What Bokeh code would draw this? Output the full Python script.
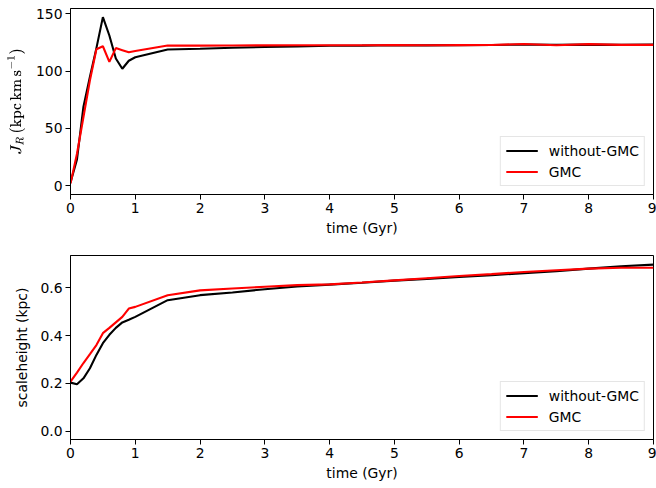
from bokeh.plotting import figure
from bokeh.layouts import column
from bokeh.models import Range1d, FixedTicker, PrintfTickFormatter
from bokeh.embed import file_html
from bokeh.resources import INLINE

# time grid (Gyr)
time = [0.0, 0.1, 0.2, 0.3, 0.4, 0.5, 0.6, 0.7, 0.8, 0.9, 1.0, 1.5, 2.0, 2.5,
        3.0, 3.5, 4.0, 4.5, 5.0, 5.5, 6.0, 6.5, 7.0, 7.5, 8.0, 8.5, 9.0]

# radial action J_R (kpc km/s)
jr_no_gmc = [3, 23, 69, 95, 120, 147, 131, 111, 102, 109, 112, 118.8, 119.5, 120.3,
             121.0, 121.5, 122.0, 122.2, 122.5, 122.4, 122.6, 122.7, 123.2, 122.8, 123.0, 122.8, 123.0]
jr_gmc = [2, 28, 60, 92, 119, 121.6, 108, 120, 118.2, 116.4, 117.5, 122.2, 122.2, 122.3,
          122.4, 122.5, 122.5, 122.5, 122.6, 122.5, 122.6, 122.7, 123.6, 122.5, 123.5, 122.8, 122.8]

# vertical scale height (kpc)
zh_no_gmc = [0.203, 0.196, 0.221, 0.263, 0.319, 0.368, 0.403, 0.432, 0.455, 0.466, 0.478, 0.548,
             0.569, 0.580, 0.594, 0.605, 0.613, 0.621, 0.630, 0.637, 0.645, 0.653, 0.661, 0.669,
             0.680, 0.690, 0.697]
zh_gmc = [0.207, 0.245, 0.285, 0.322, 0.360, 0.410, 0.432, 0.455, 0.478, 0.513, 0.520, 0.569,
          0.589, 0.597, 0.604, 0.611, 0.614, 0.622, 0.631, 0.640, 0.649, 0.657, 0.666, 0.673,
          0.680, 0.684, 0.684]

x_ticks = list(range(0, 10))
jr_ticks = [0, 50, 100, 150]
zh_ticks = [0.0, 0.2, 0.4, 0.6]

FONT = "DejaVu Sans"
FSIZE = "13.9px"
LW = 2.1


def make_panel(y_range, y_ticks, y_label, border_top, border_bottom, fmt=None):
    p = figure(width=656, height=244, output_backend="svg", toolbar_location=None,
               x_range=Range1d(0, 9), y_range=y_range,
               min_border_left=70, min_border_right=3,
               min_border_top=border_top, min_border_bottom=border_bottom)
    p.grid.visible = False
    p.outline_line_color = "black"
    p.outline_line_width = 1
    p.outline_line_alpha = 1.0
    p.background_fill_color = "white"
    p.border_fill_color = "white"
    p.xaxis.ticker = FixedTicker(ticks=x_ticks)
    p.yaxis.ticker = FixedTicker(ticks=y_ticks)
    if fmt:
        p.yaxis.formatter = PrintfTickFormatter(format=fmt)
    p.xaxis.axis_label = "time (Gyr)"
    p.yaxis.axis_label = y_label
    for ax in (p.xaxis, p.yaxis):
        ax.axis_line_color = "black"
        ax.major_tick_line_color = "black"
        ax.major_tick_out = 5
        ax.major_tick_in = 0
        ax.minor_tick_line_color = None
        ax.major_label_text_font = FONT
        ax.major_label_text_font_size = FSIZE
        ax.major_label_text_color = "black"
        ax.axis_label_text_font = FONT
        ax.axis_label_text_font_size = FSIZE
        ax.axis_label_text_font_style = "normal"
        ax.axis_label_text_color = "black"
    p.xaxis.major_label_standoff = 3
    p.xaxis.axis_label_standoff = 4
    p.yaxis.major_label_standoff = 3
    p.yaxis.axis_label_standoff = 7
    return p


def style_legend(p):
    lg = p.legend[0]
    lg.location = "bottom_right"
    lg.margin = 8
    lg.padding = 5
    lg.spacing = 4
    lg.label_height = 17
    lg.glyph_height = 17
    lg.glyph_width = 32
    lg.label_standoff = 11
    lg.label_text_font = FONT
    lg.label_text_font_size = FSIZE
    lg.label_text_color = "black"
    lg.border_line_color = "#cccccc"
    lg.border_line_width = 1
    lg.background_fill_alpha = 0.8


p1 = make_panel(Range1d(-7.5, 154.5), jr_ticks,
                r"$$J_R\,(\mathrm{kpc\,km\,s^{-1}})$$", 8, 50)
# the TeX label renders a little larger than plain text at the same size
p1.yaxis.axis_label_text_font_size = "12.5px"
p1.yaxis.axis_label_standoff = 8
p1.line(time, jr_no_gmc, line_color="black", line_width=LW, legend_label="without-GMC")
p1.line(time, jr_gmc, line_color="red", line_width=LW, legend_label="GMC")
style_legend(p1)

p2 = make_panel(Range1d(-0.035, 0.735), zh_ticks, "scaleheight (kpc)", 11, 49, fmt="%.1f")
p2.line(time, zh_no_gmc, line_color="black", line_width=LW, legend_label="without-GMC")
p2.line(time, zh_gmc, line_color="red", line_width=LW, legend_label="GMC")
style_legend(p2)

layout = column(p1, p2, spacing=0)
open("out.html", "w").write(file_html(layout, INLINE))
